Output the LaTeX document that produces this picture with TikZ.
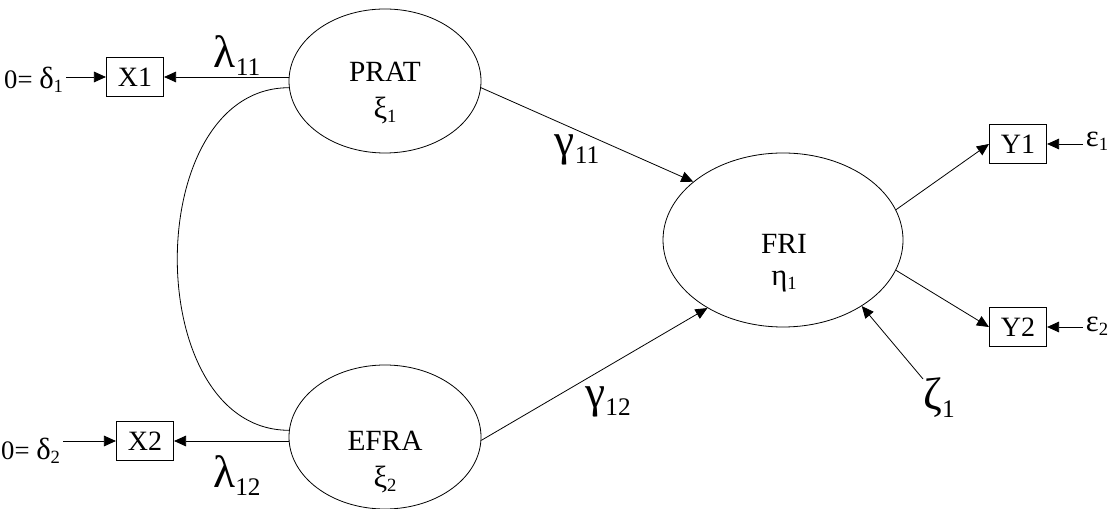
\documentclass[tikz,border=0pt]{standalone}
\usepackage{fontspec}
\setmainfont{Liberation Serif}
\usetikzlibrary{shapes.geometric,arrows.meta}

\tikzset{
  latent/.style={draw, ellipse, inner sep=0pt, line width=0.6pt},
  observed/.style={draw, rectangle, minimum width=43pt, minimum height=29.5pt,
    inner sep=0pt, line width=0.6pt, font=\fontsize{21}{21}\selectfont},
  arr/.style={-{Triangle[length=9pt,width=8pt]}, line width=0.6pt},
  err/.style={inner sep=2pt, font=\fontsize{20}{20}\selectfont},
}
% greek letter with a subscript
\newcommand{\gsub}[2]{{\fontsize{34}{34}\selectfont #1}\raisebox{-6pt}{\fontsize{19}{19}\selectfont #2}}
\newcommand{\lsub}[2]{{\fontsize{23}{23}\selectfont #1}\raisebox{-3pt}{\fontsize{14}{14}\selectfont #2}}

\begin{document}
\begin{tikzpicture}[x=0.75pt, y=-0.75pt]
    \useasboundingbox (0,0) rectangle (1116,509);

    % Latent variables
    \node (prat) [latent, minimum width=144pt, minimum height=108pt] at (385,81) {};
    \node (efra) [latent, minimum width=144pt, minimum height=108pt] at (385,437) {};
    \node (fri)  [latent, minimum width=180pt, minimum height=130.5pt] at (783,240) {};
    \node (pratt) [align=center, font=\fontsize{22}{28}\selectfont] at (385,93) {PRAT\\ \lsub{ξ}{1}};
    \node (efrat) [align=center, font=\fontsize{22}{28}\selectfont] at (385,462) {EFRA\\ \lsub{ξ}{2}};
    \node (frit)  [align=center, font=\fontsize{22}{24}\selectfont] at (784,263) {FRI\\ \lsub{η}{1}};

    % Observed variables
    \node (x1) [observed] at (135,77) {X1};
    \node (x2) [observed] at (145,441) {X2};
    \node (y1) [observed] at (1018,144) {Y1};
    \node (y2) [observed] at (1018,327) {Y2};

    % Error terms
    \node (d1) [err, anchor=east] at (66,80) {0= \lsub{δ}{1}};
    \node (d2) [err, anchor=east] at (63,451) {0= \lsub{δ}{2}};
    \node (e1) [err, anchor=west] at (1083,141) {\lsub{ε}{1}};
    \node (e2) [err, anchor=west] at (1083,326) {\lsub{ε}{2}};
    \node (zeta) [inner sep=0pt] at (939,398) {\gsub{ζ}{1}};

    % Paths
    \draw[arr] (d1.east |- x1.west) -- (x1.west);
    \draw[arr] (d2.east |- x2.west) -- (x2.west);
    \draw[arr] (prat.west |- x1.east) -- (x1.east);
    \draw[arr] (efra.west |- x2.east) -- (x2.east);
    \draw[line width=0.6pt] (prat.184) .. controls +(-149,0) and +(-149,0) .. (efra.176);
    \draw[arr] (prat.-4) -- (fri.147);
    \draw[arr] (efra.-2) -- (fri.222);
    \draw[arr] (fri.15) -- (y1.west);
    \draw[arr] (fri.-15) -- (y2.west);
    \draw[arr] (e1.west |- y1.east) -- (y1.east);
    \draw[arr] (e2.west |- y2.east) -- (y2.east);
    \draw[arr] (zeta) -- (fri.-40);

    % Coefficients
    \node (l11) at (237,56) {\gsub{λ}{11}};
    \node (l12) at (237,476) {\gsub{λ}{12}};
    \node (g11) at (577,150) {\gsub{γ}{11}};
    \node (g12) at (608,402) {\gsub{γ}{12}};
\end{tikzpicture}
\end{document}
